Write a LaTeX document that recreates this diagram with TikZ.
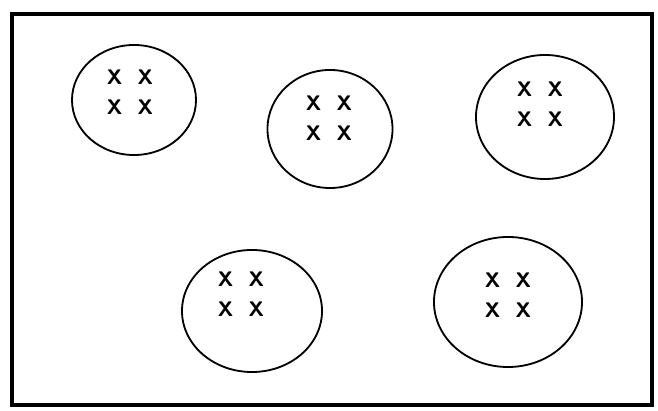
\documentclass[tikz,border=0pt]{standalone}
\usetikzlibrary{shapes.geometric}
\newcommand{\fourx}{X\hspace{0.38cm}X\\X\hspace{0.38cm}X}
\tikzset{
  cell/.style={draw, ellipse, line width=1.3pt, inner sep=0pt},
  xgroup/.style={align=center, inner sep=0pt, font=\fontsize{15}{21.3}\selectfont\sffamily\bfseries},
  frame/.style={line width=2.6pt}
}
\begin{document}
\begin{tikzpicture}[x=0.025cm, y=-0.025cm]
\useasboundingbox (0,0) rectangle (658,411);
\draw[frame] (12,14) rectangle (652,405);
% upper row
\node[cell, minimum width=3.1cm, minimum height=2.75cm] (c1) at (134,100) {};
\node[cell, minimum width=3.125cm, minimum height=2.95cm] (c2) at (330,129) {};
\node[cell, minimum width=3.45cm, minimum height=3.1cm] (c3) at (545,117) {};
% lower row
\node[cell, minimum width=3.5cm, minimum height=3.05cm] (c4) at (252,311) {};
\node[cell, minimum width=3.7cm, minimum height=3.25cm] (c5) at (508,302) {};
% the crosses
\node[xgroup] (x1) at (130,92) {\fourx};
\node[xgroup] (x2) at (329,118) {\fourx};
\node[xgroup] (x3) at (540,104) {\fourx};
\node[xgroup] (x4) at (241,294) {\fourx};
\node[xgroup] (x5) at (508,295) {\fourx};
\end{tikzpicture}
\end{document}
